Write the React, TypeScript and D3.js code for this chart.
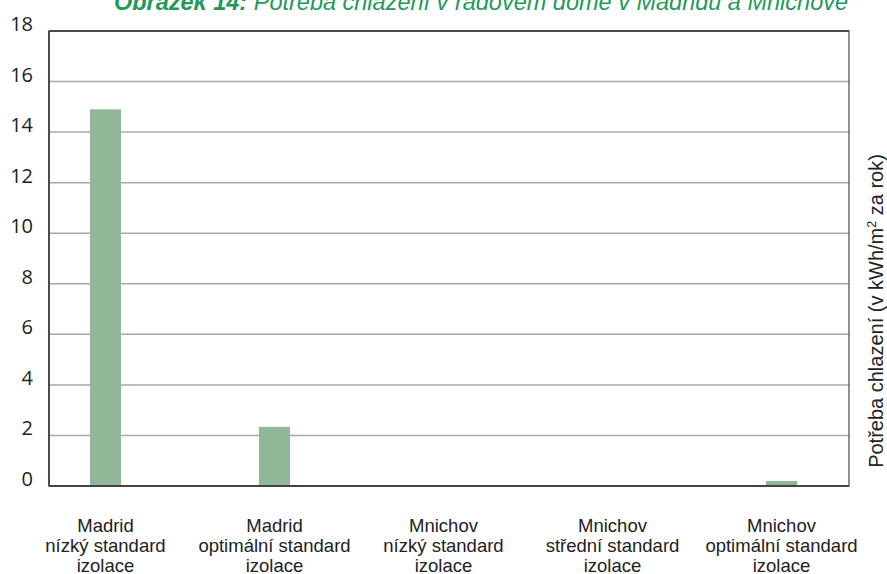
import React from "react";
import * as d3 from "d3";

const categories: string[][] = [
  ["Madrid", "nízký standard", "izolace"],
  ["Madrid", "optimální standard", "izolace"],
  ["Mnichov", "nízký standard", "izolace"],
  ["Mnichov", "střední standard", "izolace"],
  ["Mnichov", "optimální standard", "izolace"],
];
const values: number[] = [14.9, 2.34, 0, 0, 0.2];
const yTicks: number[] = [0, 2, 4, 6, 8, 10, 12, 14, 16, 18];

const W = 887;
const H = 574;
const left = 49;
const right = 849;
const top = 31;
const bottom = 486;

export default function App() {
  const keys = categories.map((c) => c.join(" "));
  const x = d3.scalePoint<string>().domain(keys).range([105.5, 781.5]);
  const y = d3.scaleLinear().domain([0, 18]).range([bottom, top]);
  const barW = 31;
  const font = "'Liberation Sans', Arial, sans-serif";

  return (
    <svg
      width={W}
      height={H}
      style={{ position: "absolute", left: 0, top: 0, background: "#fff" }}
    >
      <text
        x={481}
        y={10}
        textAnchor="middle"
        fontFamily={font}
        fontStyle="italic"
        fontSize={23.5}
        fill="#1f9a5c"
      >
        <tspan fontWeight="bold">Obrázek 14:</tspan>
        <tspan> Potřeba chlazení v řadovém domě v Madridu a Mnichově</tspan>
      </text>

      {yTicks.map((t) => (
        <g key={t}>
          {t > 0 && t < 18 && (
            <line
              x1={left}
              x2={right}
              y1={y(t)}
              y2={y(t)}
              stroke="#a8a8a8"
              strokeWidth={1.5}
            />
          )}
          <text
            x={33}
            y={y(t)}
            textAnchor="end"
            fontFamily="'Open Sans', sans-serif"
            fontSize={20}
            fill="#222"
          >
            {t}
          </text>
        </g>
      ))}

      <rect
        x={left}
        y={top}
        width={right - left}
        height={bottom - top}
        fill="none"
        stroke="#555"
        strokeWidth={1.3}
      />
      <line x1={left} x2={right} y1={top} y2={top} stroke="#333" strokeWidth={1.5} />

      {values.map((v, i) => (
        <rect
          key={i}
          x={(x(keys[i]) as number) - barW / 2}
          y={y(v)}
          width={barW}
          height={bottom - y(v)}
          fill="#90b898"
        />
      ))}

      <line x1={left} x2={right} y1={bottom} y2={bottom} stroke="#444" strokeWidth={2} />
      <line x1={left} x2={left} y1={top} y2={bottom} stroke="#444" strokeWidth={1.8} />

      {categories.map((lines, i) => (
        <text
          key={i}
          textAnchor="middle"
          fontFamily={font}
          fontSize={18.5}
          fill="#222"
        >
          {lines.map((l, j) => (
            <tspan key={j} x={x(keys[i]) as number} y={532 + j * 20}>
              {l}
            </tspan>
          ))}
        </text>
      ))}

      <text
        transform={`translate(883, 311) rotate(-90)`}
        textAnchor="middle"
        fontFamily={font}
        fontSize={20}
        fill="#222"
      >
        Potřeba chlazení (v kWh/m
        <tspan dy={-7} fontSize={12.5}>
          2
        </tspan>
        <tspan dy={7}> za rok)</tspan>
      </text>
    </svg>
  );
}
